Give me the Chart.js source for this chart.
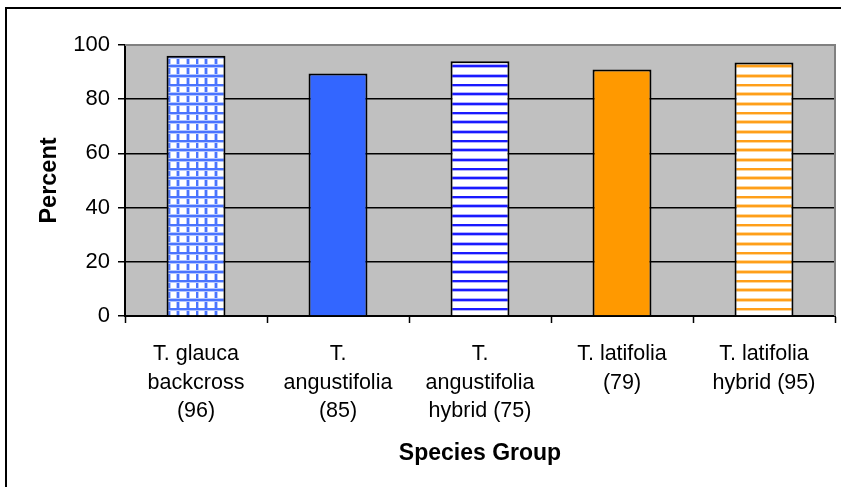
<!DOCTYPE html>
<html>
<head>
<meta charset="utf-8">
<script src="https://cdn.jsdelivr.net/npm/chart.js@4/dist/chart.umd.min.js"></script>
<style>
  html, body { margin: 0; padding: 0; background: #ffffff; }
  #wrap { width: 841px; height: 487px; }
</style>
</head>
<body>
<div id="wrap"><canvas id="c" width="841" height="487"></canvas></div>
<script>
// Species groups (sample size in brackets) and the percent value of each
const categories = [
  ["T. glauca", "backcross", "(96)"],
  ["T.", "angustifolia", "(85)"],
  ["T.", "angustifolia", "hybrid (75)"],
  ["T. latifolia", "(79)"],
  ["T. latifolia", "hybrid (95)"]
];
const percentValues = [96, 89.5, 94, 91, 93.5];
const yTicks = [0, 20, 40, 60, 80, 100];
const yAxisTitle = "Percent";
const xAxisTitle = "Species Group";

// Fill patterns for the hatched bars
function makeTile(size, draw) {
  const t = document.createElement('canvas');
  t.width = size; t.height = size;
  const g = t.getContext('2d');
  g.fillStyle = '#ffffff';
  g.fillRect(0, 0, size, size);
  draw(g, size);
  return document.getElementById('c').getContext('2d').createPattern(t, 'repeat');
}
function hLines(g, size, step, core, soft) {
  for (let y = 0; y < size; y += step) {
    const yy = Math.round(y);
    g.fillStyle = soft; g.fillRect(0, yy - 1, size, 4);
    g.fillStyle = core; g.fillRect(0, yy, size, 2);
  }
}
function vLines(g, size, step, core, soft) {
  for (let x = 0; x < size; x += step) {
    const xx = Math.round(x);
    g.fillStyle = soft; g.fillRect(xx - 1, 0, 4, size);
    g.fillStyle = core; g.fillRect(xx, 0, 2, size);
  }
}
const gridBlue = makeTile(28, (g, s) => {
  vLines(g, s, 28 / 3, '#4a74ff', '#b3c6ff');
  hLines(g, s, 28 / 3, '#4a74ff', '#b3c6ff');
});
const stripeBlue = makeTile(28, (g, s) => hLines(g, s, 28 / 3, '#1a1aff', '#b0b0ff'));
const stripeOrange = makeTile(28, (g, s) => hLines(g, s, 28 / 3, '#ff9f1a', '#ffd699'));

const barFills = [gridBlue, '#3366ff', stripeBlue, '#ff9900', stripeOrange];

// Grey plot area, its grey top/right edge and the outer frame
const framePlugin = {
  id: 'frame',
  beforeDraw(chart) {
    const { ctx, chartArea: a } = chart;
    ctx.save();
    ctx.fillStyle = '#ffffff';
    ctx.fillRect(0, 0, chart.width, chart.height);
    ctx.fillStyle = '#c0c0c0';
    ctx.fillRect(a.left, a.top, a.right - a.left, a.bottom - a.top);
    ctx.strokeStyle = '#000000';
    ctx.lineWidth = 2;
    ctx.beginPath();
    ctx.moveTo(6, chart.height);
    ctx.lineTo(6, 8);
    ctx.lineTo(chart.width, 8);
    ctx.stroke();
    ctx.restore();
  },
  afterDraw(chart) {
    const { ctx, chartArea: a } = chart;
    ctx.save();
    ctx.strokeStyle = '#808080';
    ctx.lineWidth = 2;
    ctx.beginPath();
    ctx.moveTo(a.left, a.top);
    ctx.lineTo(a.right, a.top);
    ctx.lineTo(a.right, a.bottom);
    ctx.stroke();
    ctx.restore();
  }
};

const font = "'Liberation Sans', Arial, sans-serif";

new Chart(document.getElementById('c'), {
  type: 'bar',
  data: {
    labels: categories,
    datasets: [{
      data: percentValues,
      backgroundColor: barFills,
      borderColor: '#000000',
      borderWidth: 2,
      categoryPercentage: 1,
      barPercentage: 0.415
    }]
  },
  options: {
    responsive: false,
    animation: false,
    layout: { padding: { top: 45, right: 6, left: 0, bottom: 0 } },
    plugins: { legend: { display: false }, tooltip: { enabled: false } },
    scales: {
      x: {
        grid: { offset: true, drawOnChartArea: false, drawTicks: true, tickLength: 7, tickColor: '#000000', tickWidth: 1.5 },
        border: { color: '#000000', width: 2 },
        ticks: { color: '#000000', font: { family: font, size: 21.5, lineHeight: 1.33 }, padding: 17, maxRotation: 0, autoSkip: false },
        title: { display: true, text: xAxisTitle, color: '#000000', font: { family: font, size: 23, weight: 'bold' }, padding: { bottom: 20 } },
        afterFit(scale) { scale.height = 171; }
      },
      y: {
        min: 0, max: 100,
        afterBuildTicks(scale) { scale.ticks = yTicks.map(v => ({ value: v })); },
        grid: {
          color: ctx => (ctx.tick && ctx.tick.value === 100) ? '#808080' : '#000000',
          lineWidth: 1.5, tickLength: 7, tickColor: '#000000', tickWidth: 1.5
        },
        border: { color: '#000000', width: 2 },
        ticks: { color: '#000000', font: { family: font, size: 22 }, padding: 8 },
        title: { display: true, text: yAxisTitle, color: '#000000', font: { family: font, size: 23.5, weight: 'bold' }, padding: { top: 35 } },
        afterFit(scale) { scale.width = 125; }
      }
    }
  },
  plugins: [framePlugin]
});
</script>
</body>
</html>
